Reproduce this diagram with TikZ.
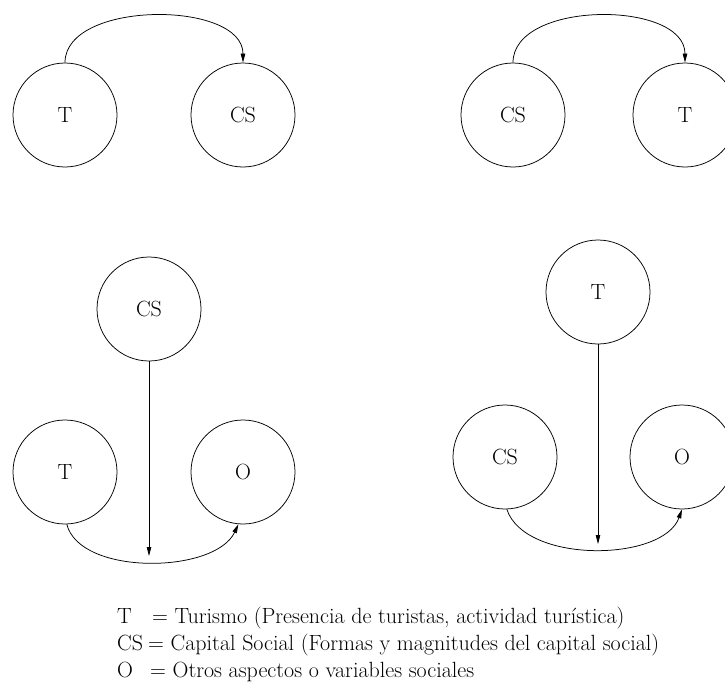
\documentclass[tikz,border=0pt]{standalone}
\usetikzlibrary{arrows.meta}
\begin{document}
\begin{tikzpicture}[x=1pt,y=-1pt,
  var/.style={draw,circle,minimum size=104pt,inner sep=0pt,line width=0.75pt,font=\fontsize{22}{26}\selectfont},
  link/.style={line width=0.75pt,-{Triangle[length=9pt,width=4.5pt]}},
  leg/.style={anchor=base west,inner sep=0pt,font=\fontsize{22}{26}\selectfont}]
\useasboundingbox (0,0) rectangle (725,685);
% top left
\node[var] (t1) at (65,115) {T};
\node[var] (cs1) at (243,115) {CS};
\draw[link] (t1.north) .. controls (65,0) and (243,0) .. (cs1.north);
% top right
\node[var] (cs2) at (513,115) {CS};
\node[var] (t2) at (685,115) {T};
\draw[link] (cs2.north) .. controls (513,0) and (685,0) .. (t2.north);
% bottom left
\node[var] (cs3) at (149,309) {CS};
\node[var] (t3) at (65,472) {T};
\node[var] (o3) at (243,472) {O};
\coordinate (m3) at (149,556);
\draw[link] (cs3.south) -- (m3);
\draw[link] (t3.-88) .. controls (80,576) and (215,574) .. (o3.-95);
% bottom right
\node[var] (t4) at (598,292) {T};
\node[var] (cs4) at (505,457) {CS};
\node[var] (o4) at (682,457) {O};
\coordinate (m4) at (598,544);
\draw[link] (t4.south) -- (m4);
\draw[link] (cs4.-88) .. controls (525,564) and (663,562) .. (o4.-90);
% legend
\node[leg] (lt) at (117,623) {T};
\node[leg] (lte) at (152,623) {= Turismo (Presencia de turistas, actividad turística)};
\node[leg] (lcs) at (117,650) {CS};
\node[leg] (lcse) at (148,650) {= Capital Social (Formas y magnitudes del capital social)};
\node[leg] (lo) at (117,677) {O};
\node[leg] (loe) at (150,677) {= Otros aspectos o variables sociales};
\end{tikzpicture}
\end{document}
